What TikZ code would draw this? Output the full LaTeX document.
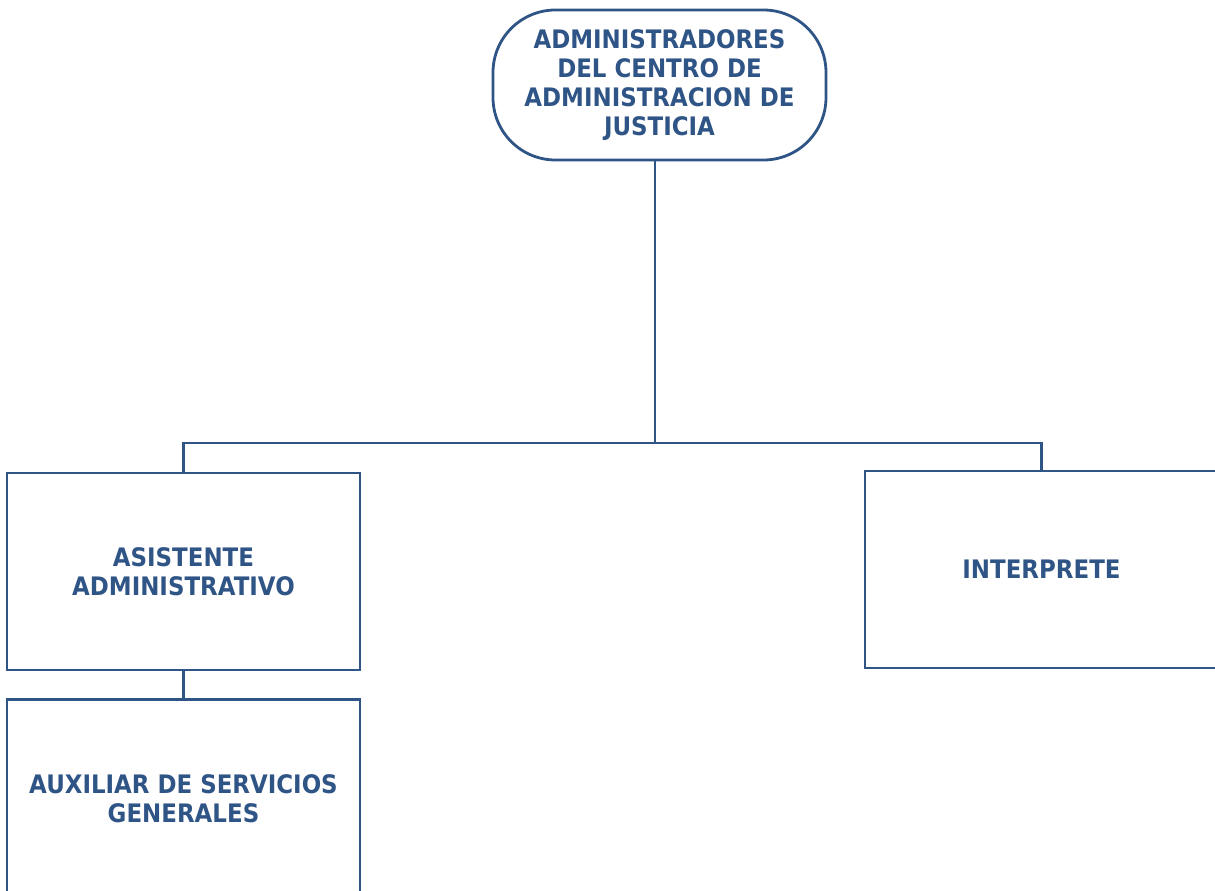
\documentclass[tikz,border=0pt]{standalone}
\usepackage{fontspec}
\setmainfont[FakeStretch=0.9]{DejaVu Sans}
\usepackage{tikz}
\usetikzlibrary{positioning}
\definecolor{orgblue}{RGB}{47,84,134}

\begin{document}
\begin{tikzpicture}[line width=1.6pt,draw=orgblue,
                    font=\bfseries\fontsize{14.5}{16.6}\selectfont]
  \tikzstyle{cargo}=[rectangle,
                                    draw=orgblue,
                                    text=orgblue,
                                    align=center,
                                    minimum width=7.06cm,
                                    minimum height=3.94cm]
  \tikzstyle{direccion}=[rectangle,rounded corners=1.25cm,
                                    draw=orgblue,
                                    text=orgblue,
                                    align=center,
                                    minimum width=6.66cm,
                                    minimum height=3.0cm]
  \useasboundingbox (0,0) rectangle (24.3,-17.82);
  \clip (0,0) rectangle (24.3,-17.82);
  %Nodo superior
  \node[direccion] (admin) at (13.19,-1.70) {ADMINISTRADORES\\DEL CENTRO DE\\ADMINISTRACION DE\\JUSTICIA};
  %Nodos cajas
  \node[cargo] (asis) at (3.67,-11.43) {ASISTENTE\\ADMINISTRATIVO};
  \node[cargo] (interp) at (20.83,-11.39) {INTERPRETE};
  \node[cargo] (aux) [below=0.54cm of asis] {AUXILIAR DE SERVICIOS\\GENERALES};
  \coordinate (barra) at (13.10,-8.86);
  \draw[orgblue] (admin.south -| barra) -- (barra);
  \draw[orgblue] (asis.north) |- (barra) -| (interp.north);
  \draw[orgblue] (asis.south) -- (aux.north);
\end{tikzpicture}
\end{document}
